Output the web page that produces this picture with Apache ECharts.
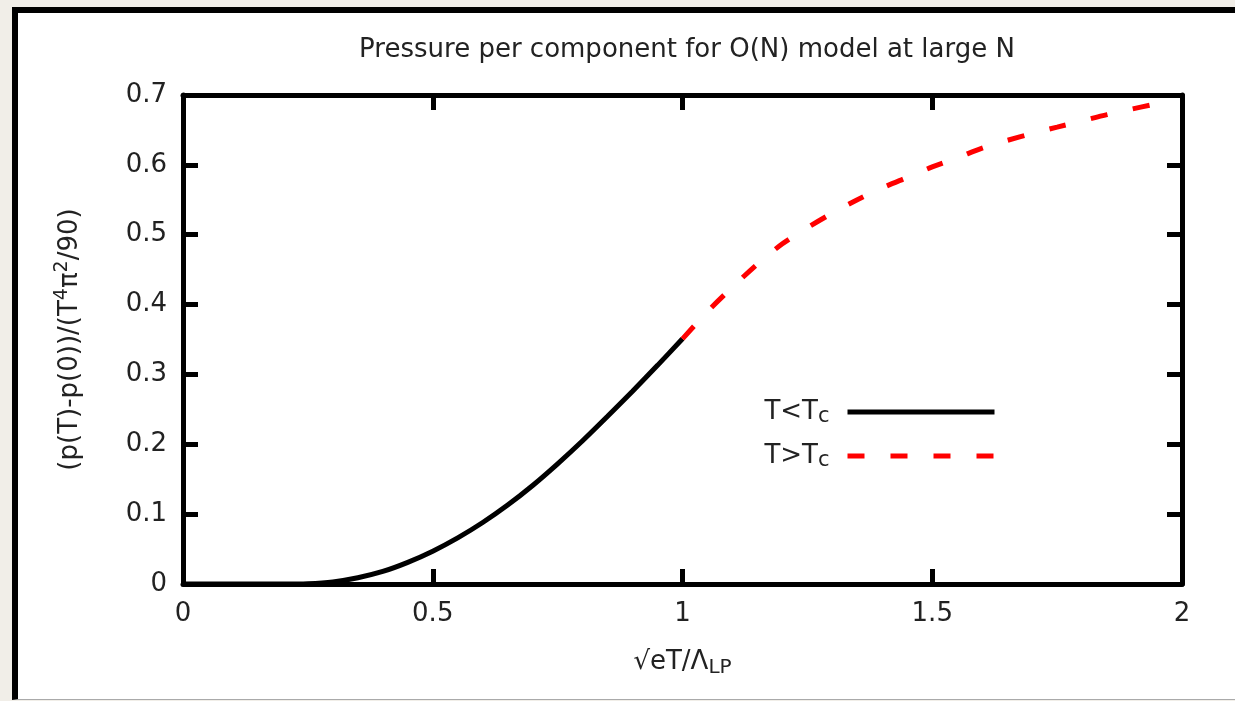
<!DOCTYPE html>
<html>
<head>
<meta charset="utf-8">
<script src="https://cdn.jsdelivr.net/npm/echarts@6/dist/echarts.min.js"></script>
<style>
    html, body { margin: 0; padding: 0; background: #f1eee8; overflow: hidden; }
    #panel {
        position: absolute; left: 12px; top: 7px; width: 1300px; height: 686px;
        background: #fff; border-left: 6px solid #000; border-top: 6px solid #000;
        border-bottom: 1px solid #aaa;
    }
    #main { position: absolute; left: 0; top: 0; width: 1235px; height: 701px; }
</style>
</head>
<body>
<div id="panel"></div>
<div id="main"></div>
<script>
// values
var below_x = [0, 0.1, 0.2, 0.25, 0.3, 0.35, 0.4, 0.45, 0.5, 0.55, 0.6, 0.65, 0.7, 0.75, 0.8, 0.85, 0.9, 0.95, 1.0];
var below_y = [0, 0, 0, 0.0005, 0.003, 0.009, 0.018, 0.031, 0.047, 0.066, 0.088, 0.113, 0.141, 0.172, 0.205, 0.240, 0.276, 0.313, 0.351];
var above_x = [1.0, 1.05, 1.1, 1.15, 1.2, 1.25, 1.3, 1.35, 1.4, 1.45, 1.5, 1.55, 1.6, 1.65, 1.7, 1.75, 1.8, 1.85, 1.9, 1.94];
var above_y = [0.351, 0.39, 0.425, 0.458, 0.487, 0.510, 0.531, 0.550, 0.567, 0.582, 0.597, 0.610, 0.624, 0.635, 0.645, 0.654, 0.663, 0.672, 0.680, 0.686];
var series_names = ['T<Tc', 'T>Tc'];

function pairs(xs, ys) {
    return xs.map(function (x, i) { return [x, ys[i]]; });
}

var font = 'DejaVu Sans';
var ink = '#222';
var fs = 26;

function axis_common(show_labels, margin) {
    return {
        axisLine: { show: true, onZero: false, lineStyle: { color: '#000', width: 5 } },
        axisTick: { show: true, inside: true, length: 15, lineStyle: { color: '#000', width: 5 } },
        axisLabel: { show: show_labels, margin: margin, fontFamily: font, fontSize: fs, color: ink },
        splitLine: { show: false }
    };
}

var black_line = { color: '#000', width: 5 };
var red_line = { color: '#ff0000', width: 5, type: [17, 26], cap: 'butt' };

var myChart = echarts.init(document.getElementById('main'));

var xa = axis_common(true, 17);
var xa2 = axis_common(false, 8);
var ya = axis_common(true, 16);
var ya2 = axis_common(false, 8);

option = {
    animation: false,
    backgroundColor: 'transparent',
    title: {
        text: 'Pressure per component for O(N) model at large N',
        left: 682,
        textAlign: 'center',
        top: 32,
        textStyle: { fontFamily: font, fontSize: fs, fontWeight: 'normal', color: ink }
    },
    grid: { left: 183, right: 53, top: 95, bottom: 117, containLabel: false },
    legend: {
        orient: 'vertical',
        right: 238,
        top: 399,
        padding: 0,
        align: 'right',
        itemWidth: 147,
        itemHeight: 30,
        itemGap: 16,
        itemStyle: { opacity: 0 },
        data: [
            { name: series_names[0], lineStyle: black_line },
            { name: series_names[1], lineStyle: red_line }
        ],
        formatter: function (name) {
            return name === series_names[0] ? '{n|T<T}{s|c}' : '{n|T>T}{s|c}';
        },
        textStyle: {
            fontFamily: font, fontSize: fs, color: ink, padding: [0, 13, 0, 0],
            rich: {
                n: { fontFamily: font, fontSize: fs, color: ink, lineHeight: 30 },
                s: { fontFamily: font, fontSize: 21, color: ink, lineHeight: 6, verticalAlign: 'bottom' }
            }
        }
    },
    xAxis: [
        Object.assign(xa, {
            type: 'value', min: 0, max: 2, interval: 0.5, position: 'bottom',
            name: '{n|√eT/Λ}{s|LP}',
            nameLocation: 'middle',
            nameGap: 62,
            nameTextStyle: {
                rich: {
                    n: { fontFamily: font, fontSize: fs, color: ink, lineHeight: 32 },
                    s: { fontFamily: font, fontSize: 20, color: ink, lineHeight: 8, verticalAlign: 'bottom' }
                }
            }
        }),
        Object.assign(xa2, { type: 'value', min: 0, max: 2, interval: 0.5, position: 'top' })
    ],
    yAxis: [
        Object.assign(ya, {
            type: 'value', min: 0, max: 0.7, interval: 0.1, position: 'left',
            name: '{n|(p(T)-p(0))/(T}{p|4}{n|π}{p|2}{n|/90)}',
            nameLocation: 'middle',
            nameRotate: 90,
            nameGap: 96,
            nameTextStyle: {
                rich: {
                    n: { fontFamily: font, fontSize: fs, color: ink, lineHeight: 34 },
                    p: { fontFamily: font, fontSize: 19, color: ink, lineHeight: 34, verticalAlign: 'top', padding: [0, 0, 12, 0] }
                }
            }
        }),
        Object.assign(ya2, { type: 'value', min: 0, max: 0.7, interval: 0.1, position: 'right' })
    ],
    series: [
        {
            name: series_names[0],
            type: 'line',
            data: pairs(below_x, below_y),
            smooth: 0.3,
            showSymbol: false,
            symbol: 'none',
            lineStyle: black_line,
            itemStyle: { color: '#000' },
            z: 3
        },
        {
            name: series_names[1],
            type: 'line',
            data: pairs(above_x, above_y),
            smooth: 0.3,
            showSymbol: false,
            symbol: 'none',
            lineStyle: red_line,
            itemStyle: { color: '#ff0000' },
            z: 3
        }
    ]
};

myChart.setOption(option);
</script>
</body>
</html>
